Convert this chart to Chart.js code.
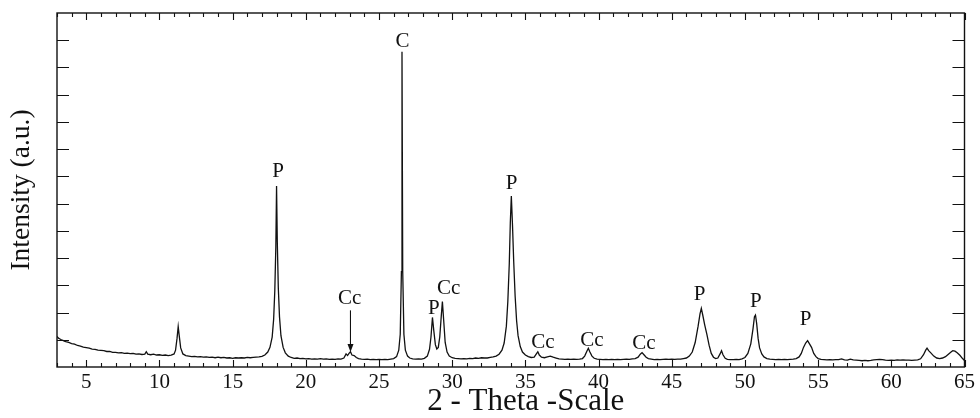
<!DOCTYPE html>
<html>
<head>
<meta charset="utf-8">
<script src="https://cdn.jsdelivr.net/npm/chart.js@4/dist/chart.umd.min.js"></script>
<style>
html,body{margin:0;padding:0;background:#fff;}
#wrap{width:980px;height:418px;position:relative;}
</style>
</head>
<body>
<div id="wrap"><canvas id="c" width="980" height="418"></canvas></div>
<script>
const twoTheta = [3.0,3.1,3.2,3.3,3.4,3.5,3.6,3.8,4.0,4.2,4.4,4.6,4.8,5.0,5.2,5.4,5.6,5.8,6.0,6.2,6.4,6.6,6.8,7.0,7.2,7.4,7.6,7.8,8.0,8.2,8.4,8.6,8.8,9.0,9.1,9.2,9.4,9.6,9.8,10.0,10.2,10.4,10.6,10.8,11.0,11.1,11.2,11.28,11.35,11.45,11.6,11.8,12.0,12.2,12.4,12.6,12.8,13.0,13.2,13.4,13.6,13.8,14.0,14.2,14.4,14.6,14.8,15.0,15.2,15.4,15.6,15.8,16.0,16.2,16.4,16.6,16.8,17.0,17.2,17.4,17.55,17.7,17.8,17.88,17.95,18.0,18.05,18.12,18.2,18.3,18.45,18.6,18.8,19.0,19.2,19.4,19.6,19.8,20.0,20.2,20.4,20.6,20.8,21.0,21.2,21.4,21.6,21.8,22.0,22.2,22.4,22.6,22.75,22.85,22.95,23.05,23.15,23.3,23.45,23.6,23.8,24.0,24.2,24.4,24.6,24.8,25.0,25.2,25.4,25.6,25.8,26.0,26.2,26.35,26.45,26.53,26.57,26.62,26.7,26.8,26.95,27.1,27.3,27.5,27.7,27.9,28.1,28.3,28.45,28.55,28.65,28.75,28.85,28.95,29.05,29.15,29.25,29.33,29.42,29.52,29.65,29.8,30.0,30.2,30.4,30.6,30.8,31.0,31.2,31.4,31.6,31.8,32.0,32.2,32.4,32.6,32.8,33.0,33.2,33.4,33.55,33.7,33.8,33.9,33.97,34.04,34.12,34.2,34.3,34.4,34.5,34.65,34.8,35.0,35.2,35.4,35.6,35.75,35.85,35.95,36.1,36.3,36.5,36.7,36.9,37.1,37.3,37.5,37.7,37.9,38.1,38.3,38.5,38.7,38.9,39.05,39.2,39.3,39.4,39.55,39.7,39.9,40.1,40.3,40.5,40.7,40.9,41.1,41.3,41.5,41.7,41.9,42.1,42.3,42.5,42.7,42.85,42.97,43.1,43.25,43.4,43.6,43.8,44.0,44.2,44.4,44.6,44.8,45.0,45.2,45.4,45.6,45.8,46.0,46.2,46.4,46.6,46.8,46.93,47.02,47.12,47.25,47.4,47.55,47.7,47.85,48.0,48.15,48.3,48.4,48.5,48.65,48.8,49.0,49.2,49.4,49.6,49.8,50.0,50.2,50.4,50.55,50.65,50.72,50.8,50.9,51.0,51.15,51.3,51.5,51.7,51.9,52.1,52.3,52.5,52.7,52.9,53.1,53.3,53.5,53.7,53.85,54.0,54.15,54.28,54.4,54.55,54.7,54.85,55.0,55.2,55.4,55.6,55.8,56.0,56.2,56.4,56.6,56.8,57.0,57.2,57.4,57.6,57.8,58.0,58.2,58.4,58.6,58.8,59.0,59.2,59.4,59.6,59.8,60.0,60.2,60.4,60.6,60.8,61.0,61.2,61.4,61.6,61.8,62.0,62.2,62.35,62.44,62.55,62.7,62.9,63.1,63.3,63.5,63.7,63.9,64.1,64.2,64.35,64.5,64.7,64.85,65.0];
const intensity = [1.12,1.06,1.03,1.00,0.98,0.95,0.93,0.90,0.86,0.84,0.79,0.77,0.73,0.71,0.69,0.66,0.65,0.62,0.61,0.60,0.57,0.57,0.54,0.54,0.52,0.53,0.50,0.51,0.49,0.50,0.47,0.48,0.46,0.47,0.56,0.47,0.45,0.47,0.44,0.45,0.43,0.44,0.42,0.44,0.48,0.62,1.05,1.48,1.15,0.70,0.48,0.42,0.40,0.38,0.39,0.37,0.38,0.36,0.37,0.35,0.36,0.34,0.36,0.34,0.35,0.33,0.34,0.32,0.34,0.33,0.34,0.33,0.35,0.34,0.35,0.36,0.37,0.39,0.44,0.55,0.72,1.10,1.75,2.80,4.40,6.65,4.60,2.90,1.85,1.15,0.72,0.52,0.40,0.35,0.32,0.33,0.31,0.32,0.30,0.31,0.29,0.30,0.29,0.31,0.29,0.30,0.28,0.29,0.28,0.30,0.29,0.33,0.48,0.42,0.50,0.56,0.44,0.42,0.35,0.31,0.29,0.28,0.29,0.27,0.28,0.27,0.28,0.27,0.28,0.27,0.29,0.31,0.38,0.62,1.20,3.50,11.58,3.50,1.20,0.62,0.40,0.33,0.30,0.29,0.30,0.29,0.32,0.40,0.65,1.10,1.82,1.30,0.82,0.66,0.72,1.10,1.85,2.40,1.70,0.90,0.55,0.40,0.34,0.32,0.31,0.30,0.31,0.30,0.32,0.31,0.33,0.32,0.34,0.33,0.33,0.35,0.37,0.40,0.47,0.62,0.88,1.50,2.40,3.80,5.30,6.28,5.20,3.90,2.60,1.70,1.15,0.75,0.55,0.44,0.38,0.35,0.36,0.48,0.56,0.44,0.36,0.34,0.37,0.40,0.36,0.33,0.30,0.29,0.28,0.29,0.28,0.29,0.28,0.29,0.31,0.40,0.58,0.69,0.56,0.40,0.32,0.29,0.28,0.27,0.28,0.27,0.28,0.27,0.28,0.27,0.28,0.29,0.28,0.30,0.31,0.36,0.47,0.53,0.45,0.36,0.31,0.29,0.27,0.28,0.27,0.28,0.29,0.28,0.29,0.28,0.29,0.29,0.31,0.33,0.40,0.55,0.90,1.50,1.95,2.15,1.90,1.55,1.20,0.80,0.50,0.36,0.31,0.33,0.48,0.60,0.45,0.32,0.28,0.27,0.27,0.28,0.27,0.30,0.35,0.50,0.85,1.40,1.85,1.91,1.60,1.05,0.70,0.48,0.37,0.31,0.29,0.28,0.27,0.28,0.27,0.28,0.27,0.28,0.29,0.31,0.37,0.50,0.72,0.88,0.97,0.86,0.72,0.50,0.38,0.31,0.28,0.27,0.26,0.27,0.26,0.27,0.27,0.30,0.26,0.25,0.29,0.26,0.25,0.24,0.23,0.24,0.23,0.24,0.26,0.27,0.28,0.27,0.25,0.24,0.25,0.24,0.26,0.25,0.26,0.25,0.25,0.24,0.25,0.26,0.30,0.45,0.62,0.69,0.60,0.52,0.40,0.33,0.31,0.33,0.38,0.47,0.56,0.60,0.58,0.52,0.42,0.32,0.24];

// Phase labels (P, C, Cc) placed in data units
const peakLabelText = ['P','Cc','C','P','Cc','P','Cc','Cc','Cc','P','P','P'];
const peakLabelX    = [18.1,23.0,26.6,28.75,29.75,34.05,36.2,39.55,43.1,46.9,50.75,54.15];
const peakLabelY    = [7.17,2.53,11.95,2.16,2.89,6.75,0.91,0.99,0.87,2.68,2.40,1.73];
// Arrow under the Cc label at ~23 deg
const arrowX = [23.05];
const arrowFromY = [2.08];
const arrowToY = [0.55];

const xTickLabels = [5,10,15,20,25,30,35,40,45,50,55,60,65];
const xTitle = '2 - Theta -Scale';
const yTitle = 'Intensity (a.u.)';

const points = twoTheta.map((t,i)=>({x:t,y:intensity[i]}));

const serif = "'Liberation Serif','Times New Roman',serif";

const framePlugin = {
  id:'frame',
  afterDatasetsDraw(chart){
    const {ctx, chartArea:a, scales:{x,y}} = chart;
    ctx.save();
    ctx.strokeStyle = '#111';
    ctx.lineWidth = 1.4;
    ctx.strokeRect(a.left, a.top, a.right-a.left, a.bottom-a.top);
    ctx.lineWidth = 1.1;
    ctx.beginPath();
    for(let v=Math.ceil(x.min); v<=x.max; v++){
      const px = Math.round(x.getPixelForValue(v))+0.5;
      const len = (v%5===0)?7:4;
      ctx.moveTo(px,a.bottom); ctx.lineTo(px,a.bottom-len);
      ctx.moveTo(px,a.top); ctx.lineTo(px,a.top+len);
    }
    for(let v=y.min+1; v<y.max; v++){
      const py = Math.round(y.getPixelForValue(v))+0.5;
      ctx.moveTo(a.left,py); ctx.lineTo(a.left+12,py);
      ctx.moveTo(a.right,py); ctx.lineTo(a.right-12,py);
    }
    ctx.stroke();
    // labels
    ctx.fillStyle = '#111';
    ctx.font = "21px " + serif;
    ctx.textAlign = 'center';
    ctx.textBaseline = 'middle';
    peakLabelText.forEach((t,i)=>{
      ctx.fillText(t, x.getPixelForValue(peakLabelX[i]), y.getPixelForValue(peakLabelY[i]));
    });
    // arrow
    ctx.lineWidth = 1.1;
    arrowX.forEach((ax,i)=>{
      const px = x.getPixelForValue(ax);
      const y1 = y.getPixelForValue(arrowFromY[i]);
      const y2 = y.getPixelForValue(arrowToY[i]);
      ctx.beginPath(); ctx.moveTo(px,y1); ctx.lineTo(px,y2-5); ctx.stroke();
      ctx.beginPath(); ctx.moveTo(px,y2); ctx.lineTo(px-3,y2-8); ctx.lineTo(px+3,y2-8); ctx.closePath(); ctx.fill();
    });
    // x axis title (centred slightly right of the plot centre, as in the source)
    ctx.font = "31px " + serif;
    ctx.fillText(xTitle, (a.left+a.right)/2 + 15, 402);
    ctx.restore();
  }
};

new Chart(document.getElementById('c'), {
  type:'scatter',
  data:{datasets:[{
    data:points,
    showLine:true,
    borderColor:'#111',
    borderWidth:1.3,
    pointRadius:0,
    tension:0,
    fill:false
  }]},
  options:{
    responsive:false,
    animation:false,
    devicePixelRatio:1,
    layout:{padding:{top:13,right:15,left:0,bottom:0}},
    plugins:{legend:{display:false},tooltip:{enabled:false}},
    scales:{
      x:{
        type:'linear',min:3,max:65,
        grid:{display:false,drawTicks:false},
        border:{display:false},
        afterFit(s){s.height=51;},
        afterBuildTicks(s){s.ticks = xTickLabels.map(v=>({value:v}));},
        ticks:{color:'#111',padding:5,font:{family:serif,size:21,lineHeight:1},maxRotation:0,autoSkip:false},
        title:{display:false}
      },
      y:{
        type:'linear',min:0,max:13,
        grid:{display:false,drawTicks:false},
        border:{display:false},
        afterFit(s){s.width=57;},
        ticks:{display:false},
        title:{display:true,text:yTitle,color:'#111',font:{family:serif,size:27.5,lineHeight:1},padding:{top:8,bottom:0}}
      }
    }
  },
  plugins:[framePlugin]
});
</script>
</body>
</html>
